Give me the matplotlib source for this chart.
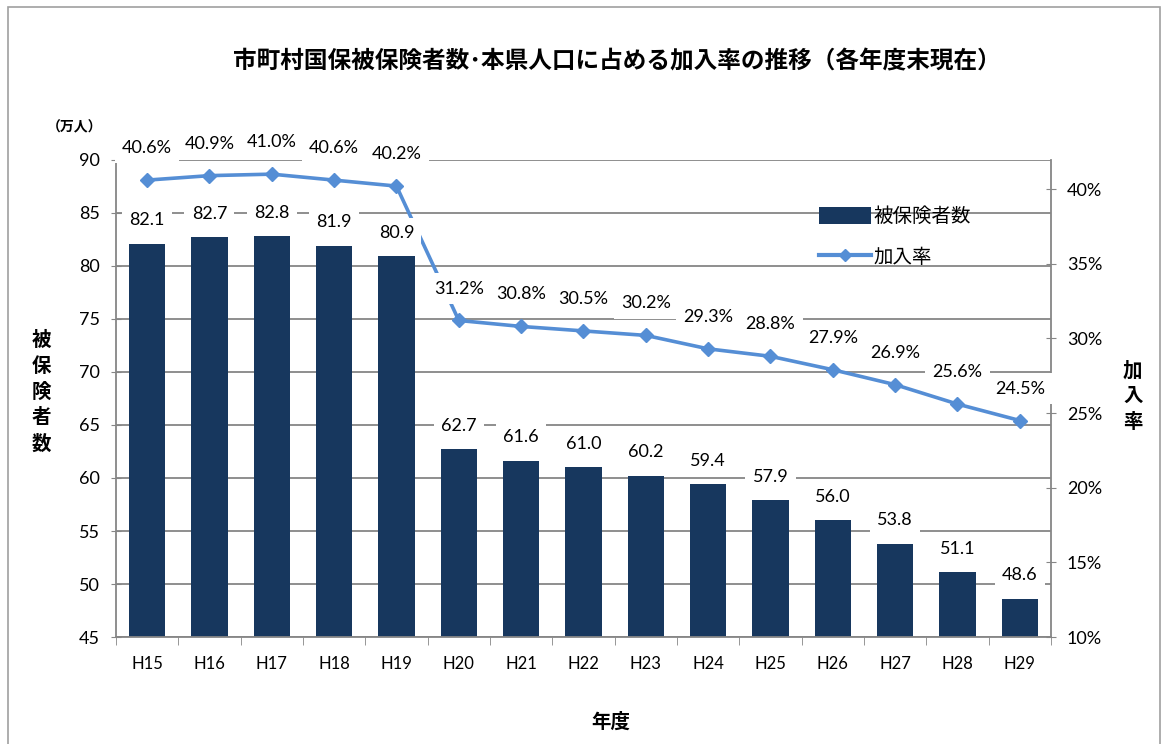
import matplotlib
matplotlib.use("Agg")
import matplotlib.pyplot as plt
from matplotlib.patches import Rectangle
from matplotlib.lines import Line2D
from matplotlib.patches import Patch

categories = ["H15", "H16", "H17", "H18", "H19", "H20", "H21", "H22", "H23",
              "H24", "H25", "H26", "H27", "H28", "H29"]
insured = [82.1, 82.7, 82.8, 81.9, 80.9, 62.7, 61.6, 61.0, 60.2, 59.4, 57.9,
           56.0, 53.8, 51.1, 48.6]
rate = [40.6, 40.9, 41.0, 40.6, 40.2, 31.2, 30.8, 30.5, 30.2, 29.3, 28.8,
        27.9, 26.9, 25.6, 24.5]
left_ticks = [45, 50, 55, 60, 65, 70, 75, 80, 85, 90]
right_ticks = [10, 15, 20, 25, 30, 35, 40]

LAT = ["Lato", "Noto Sans CJK JP", "DejaVu Sans"]
JP = ["Noto Sans CJK JP", "DejaVu Sans"]
plt.rcParams["font.family"] = LAT

BAR = "#17375E"
LINE = "#558ED5"
GRID = "#868686"

fig = plt.figure(figsize=(11.63, 7.44), dpi=100)
fig.patches.append(Rectangle((0.007, -0.01), 0.99, 1.0, transform=fig.transFigure,
                             fill=False, edgecolor="#A0A0A0", linewidth=1.2))

ax = fig.add_axes([0.0997, 0.1438, 0.8040, 0.6412])
x = list(range(len(categories)))
ax.bar(x, insured, width=0.58, color=BAR, zorder=2)
ax.set_ylim(45, 90)
ax.set_xlim(-0.5, len(categories) - 0.5)
ax.set_yticks(left_ticks)
ax.set_yticklabels([str(v) for v in left_ticks], fontsize=13)
ax.yaxis.grid(True, color=GRID, linewidth=1.3, zorder=0)
ax.set_axisbelow(True)
ax.set_xticks(x)
ax.set_xticklabels(categories, fontsize=12)
ax.set_xticks([i + 0.5 for i in range(-1, len(categories))], minor=True)
ax.tick_params(axis="x", which="major", length=0, pad=14)
ax.tick_params(axis="x", which="minor", length=6, color=GRID, direction="out")
ax.tick_params(axis="y", length=7, color=GRID, direction="inout", pad=8)
for s in ["top", "right"]:
    ax.spines[s].set_visible(False)
for s in ["left", "bottom"]:
    ax.spines[s].set_color(GRID)
    ax.spines[s].set_linewidth(1.3)

ax2 = ax.twinx()
ax2.plot(x, rate, color=LINE, linewidth=2.6, marker="D", markersize=7.5, zorder=3)
ax2.set_ylim(10, 41.95)
ax2.set_yticks(right_ticks)
ax2.set_yticklabels([f"{v}%" for v in right_ticks], fontsize=13)
ax2.tick_params(axis="y", length=7, color=GRID, direction="inout", pad=8)
for s in ["top", "left", "bottom"]:
    ax2.spines[s].set_visible(False)
ax2.spines["right"].set_color(GRID)
ax2.spines["right"].set_linewidth(1.3)

box = dict(boxstyle="square,pad=0.4", facecolor="white", edgecolor="none")
for xi, v in zip(x, rate):
    ax2.annotate(f"{v:.1f}%", (xi, v), xytext=(0, 23), textcoords="offset points",
                 ha="center", va="center", fontsize=13, bbox=box, zorder=10)
for xi, v in zip(x, insured):
    ax2.annotate(f"{v:.1f}", (xi, v), xycoords=ax.transData, xytext=(0, 17),
                 textcoords="offset points", ha="center", va="center",
                 fontsize=13, bbox=box, zorder=10)

handles = [Patch(facecolor=BAR, edgecolor="none"),
           Line2D([0], [0], color=LINE, linewidth=3, marker="D", markersize=6)]
leg = ax2.legend(handles, ["被保険者数", "加入率"], loc="upper left",
                 bbox_to_anchor=(0.733, 0.94), frameon=False,
                 prop={"family": JP, "size": 14}, handlelength=2.7,
                 handleheight=1.0, labelspacing=1.0, handletextpad=0.1)
leg.set_zorder(20)

fig.text(0.53, 0.918, "市町村国保被保険者数･本県人口に占める加入率の推移（各年度末現在）",
         ha="center", va="center", fontsize=17, fontweight="bold", family=JP)
fig.text(0.064, 0.829, "（万人）", ha="center", va="center", fontsize=10,
         fontweight="bold", family=JP)
fig.text(0.036, 0.473, "被\n保\n険\n者\n数", ha="center", va="center", fontsize=14,
         fontweight="bold", family=JP, linespacing=1.45)
fig.text(0.974, 0.467, "加\n入\n率", ha="center", va="center", fontsize=14,
         fontweight="bold", family=JP, linespacing=1.45)
fig.text(0.525, 0.03, "年度", ha="center", va="center", fontsize=14,
         fontweight="bold", family=JP)

fig.savefig("out.png", dpi=100)
